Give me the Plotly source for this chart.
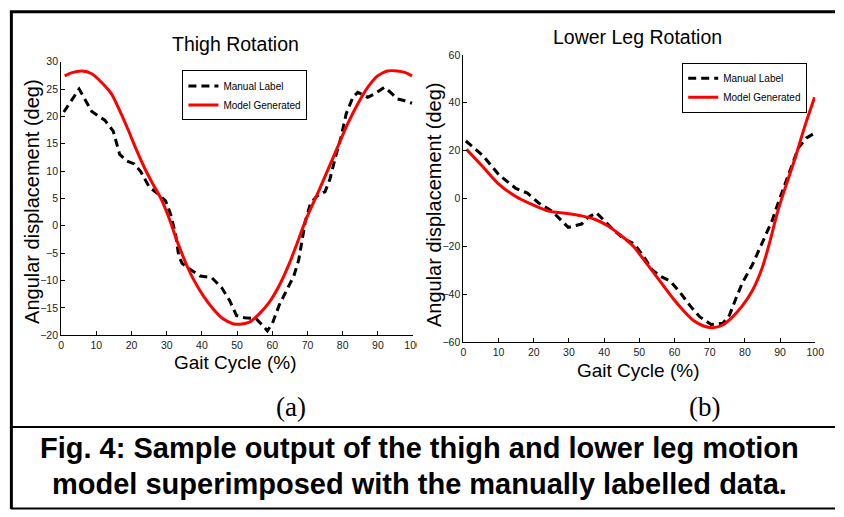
import plotly.graph_objects as go

W, H = 844, 517

# ---- data ----
thigh_manual_x = [0.75, 5.1, 8.7, 12.4, 14.8, 16.6, 18.5, 20.8, 22.7, 25, 27.4, 29.7, 31.1, 32.5, 33.4, 34.4,
                  36.7, 39.5, 42.8, 45.6, 47.9, 49.8, 52.1, 55.4, 57.2, 58.6, 60.0, 61.9, 64.2, 66.1, 67.5,
                  68.4, 69.4, 70.8, 72.6, 75, 76.4, 77.8, 79.6, 81, 82.9, 84.3, 87.1, 89, 91.8, 93.6, 95.5,
                  97.4, 99.7]
thigh_manual_y = [20.8, 25, 20.9, 19.3, 17.3, 13.1, 11.9, 11.3, 9.8, 7.1, 5.9, 4.5, 2.1, -1.5, -5.5, -6.9,
                  -8.0, -9.2, -9.5, -11.3, -13.7, -16.4, -16.8, -17.0, -18.2, -19.2, -17.9, -14.6, -11.6,
                  -9.2, -6.25, -2.7, 0.9, 4.0, 5.4, 6.25, 8.6, 12.2, 16.4, 20.5, 23.5, 24.4, 23.5, 24.1,
                  25.3, 24.4, 23.2, 22.9, 22.4]

thigh_model_x = [1, 3.1, 5.9, 8.7, 11.5, 14.3, 16.6, 19, 21.3, 23.6, 26, 28.3, 30.6, 33, 35.8, 37.6, 40.4,
                 43.2, 46, 48.8, 50.7, 53.5, 56.3, 59.1, 61.9, 64.7, 67, 69.4, 73.1, 75.9, 78.7, 81.5,
                 84.3, 87.1, 89.9, 92.7, 95.5, 97.8, 99.7]
thigh_model_y = [27.4, 28.0, 28.3, 27.8, 26.2, 24.1, 21.1, 17.6, 14, 10.7, 7.7, 5.05, 1.5, -2.9, -7.4, -9.8,
                 -12.8, -15.2, -17, -17.9, -18.0, -17.6, -16.1, -14, -11, -7.1, -3.3, 0.9, 6.25, 10.4,
                 14.6, 18.75, 22.3, 25.3, 27.4, 28.3, 28.3, 28.0, 27.4]

leg_manual_x = [0.7, 5.6, 10.2, 14.9, 18.2, 21.4, 25.2, 28, 29.8, 33.6, 35.4, 37.8, 40.1, 42.9, 45.7, 48.5,
                51.3, 53.6, 56, 58.8, 61.6, 64.4, 67.2, 70.4, 73.7, 75.6, 77.4, 79.3, 82.1, 84.9, 87.7,
                89.6, 92.4, 95.2, 97.5, 99.8]
leg_manual_y = [24, 17.8, 9.7, 4.2, 2.2, -1.9, -5.3, -9.4, -12.1, -10.7, -8, -6, -9.4, -13.5, -16.9, -18.9,
                -24.4, -29.8, -32.5, -34.6, -39.3, -44.8, -49.5, -52.7, -52.2, -48.8, -42, -35.2, -27.8,
                -18.9, -9.4, -1.3, 9.7, 21.2, 25.3, 27.3]

leg_model_x = [0.9, 5.6, 9.8, 14.9, 19.6, 24.2, 28.9, 33.6, 37.3, 41, 44.8, 48.5, 51.3, 54.1, 56.9, 59.7,
               62.5, 65.3, 68.1, 70.9, 73.7, 76.5, 79.3, 82.1, 84.9, 87.2, 89.1, 91.4, 94.2, 97, 99.8]
leg_model_y = [20.5, 13.1, 6.3, 0.8, -2.6, -5.3, -6.2, -7.3, -8.7, -11.4, -15.5, -20.3, -25.7, -31.1,
               -36.6, -42, -46.8, -50.9, -53.2, -54, -52.9, -49.5, -44.8, -38.6, -29.1, -17.5, -6.6, 4.2,
               16.5, 30.1, 42.3]

x_ticks = list(range(0, 101, 10))
thigh_y_ticks = list(range(-20, 31, 5))
leg_y_ticks = list(range(-60, 61, 20))

series_names = ["Manual Label", "Model Generated"]
titles = ["Thigh Rotation", "Lower Leg Rotation"]
panel_labels = ["(a)", "(b)"]
x_title = "Gait Cycle (%)"
y_title = "Angular displacement (deg)"
caption = ["Fig. 4: Sample output of the thigh and lower leg motion",
           "model superimposed with the manually labelled data."]


def px(x):
    return x / W


def py(y):
    return 1 - y / H


fig = go.Figure()

manual_style = dict(color="black", width=3, dash="8px,5px")
model_style = dict(color="#ff0000", width=3)

fig.add_trace(go.Scatter(x=thigh_manual_x, y=thigh_manual_y, mode="lines", name=series_names[0],
                         line=manual_style, xaxis="x", yaxis="y", legend="legend"))
fig.add_trace(go.Scatter(x=thigh_model_x, y=thigh_model_y, mode="lines", name=series_names[1],
                         line=dict(model_style, shape="spline", smoothing=0.6), xaxis="x", yaxis="y",
                         legend="legend"))
fig.add_trace(go.Scatter(x=leg_manual_x, y=leg_manual_y, mode="lines", name=series_names[0],
                         line=manual_style, xaxis="x2", yaxis="y2", legend="legend2"))
fig.add_trace(go.Scatter(x=leg_model_x, y=leg_model_y, mode="lines", name=series_names[1],
                         line=dict(model_style, shape="spline", smoothing=0.6), xaxis="x2", yaxis="y2",
                         legend="legend2"))

font_sans = "Liberation Sans, Arial, sans-serif"
tickfont = dict(family=font_sans, size=10.5, color="#222")
axis_common = dict(showline=True, linecolor="black", linewidth=1, ticks="inside", ticklen=4,
                   tickcolor="black", tickwidth=1, showgrid=False, zeroline=False, tickfont=tickfont,
                   mirror=False)

legend_common = dict(bgcolor="white", bordercolor="black", borderwidth=1,
                     font=dict(family=font_sans, size=10, color="black"),
                     xanchor="left", yanchor="top", tracegroupgap=0, itemwidth=30)

fig.update_layout(
    width=W, height=H,
    margin=dict(l=0, r=0, t=0, b=0),
    paper_bgcolor="white", plot_bgcolor="white",
    showlegend=True,
    xaxis=dict(axis_common, domain=[px(59), px(416)], range=[0, 100], tickvals=x_ticks, anchor="y"),
    yaxis=dict(axis_common, domain=[py(337), py(57)], range=[-20, 30], tickvals=thigh_y_ticks, anchor="x"),
    xaxis2=dict(axis_common, domain=[px(467), px(824)], range=[0, 100], tickvals=x_ticks, anchor="y2"),
    yaxis2=dict(axis_common, domain=[py(344), py(50)], range=[-60, 60], tickvals=leg_y_ticks, anchor="x2"),
    legend=dict(legend_common, x=px(182), y=py(66)),
    legend2=dict(legend_common, x=px(689), y=py(58)),
)

ann = []
ann.append(dict(text=titles[0], x=px(235.5), y=py(39), font=dict(family=font_sans, size=19.5, color="black")))
ann.append(dict(text=titles[1], x=px(644), y=py(32), font=dict(family=font_sans, size=19.5, color="black")))
ann.append(dict(text=x_title, x=px(235.5), y=py(365), font=dict(family=font_sans, size=19, color="black")))
ann.append(dict(text=x_title, x=px(644), y=py(373), font=dict(family=font_sans, size=19, color="black")))
ann.append(dict(text=y_title, x=px(30), y=py(200), textangle=-90,
                font=dict(family=font_sans, size=20, color="black")))
ann.append(dict(text=y_title, x=px(438), y=py(203), textangle=-90,
                font=dict(family=font_sans, size=20, color="black")))
ann.append(dict(text=panel_labels[0], x=px(292), y=py(411),
                font=dict(family="Liberation Serif, Times New Roman, serif", size=27, color="black")))
ann.append(dict(text=panel_labels[1], x=px(712), y=py(411),
                font=dict(family="Liberation Serif, Times New Roman, serif", size=27, color="black")))
cap_font = dict(family="Liberation Sans Narrow, Arial Narrow, Liberation Sans, sans-serif", size=29,
                color="black")
ann.append(dict(text="<b>" + caption[0] + "</b>", x=px(423), y=py(452), font=cap_font))
ann.append(dict(text="<b>" + caption[1] + "</b>", x=px(423), y=py(489), font=cap_font))

for a in ann:
    a.update(xref="paper", yref="paper", showarrow=False, xanchor="center", yanchor="middle")
fig.update_layout(annotations=ann)

shapes = [
    # clip of the left "100" label by the right panel
    dict(type="rect", xref="paper", yref="paper", x0=px(420), x1=px(428), y0=py(352), y1=py(338),
         fillcolor="white", line=dict(width=0), layer="above"),
    # outer frame
    dict(type="line", xref="paper", yref="paper", x0=px(7), x1=1, y0=py(6), y1=py(6),
         line=dict(color="black", width=3)),
    dict(type="line", xref="paper", yref="paper", x0=px(8.5), x1=px(8.5), y0=py(5), y1=py(515),
         line=dict(color="black", width=3)),
    dict(type="line", xref="paper", yref="paper", x0=px(8), x1=1, y0=py(431), y1=py(431),
         line=dict(color="black", width=2)),
    dict(type="line", xref="paper", yref="paper", x0=px(8), x1=1, y0=py(514.5), y1=py(514.5),
         line=dict(color="black", width=2)),
]
fig.update_layout(shapes=shapes)

post = ("document.documentElement.style.margin='0';document.documentElement.style.overflow='hidden';"
        "document.body.style.margin='0';document.body.style.overflow='hidden';")
fig.write_html("out.html", config={"displayModeBar": False}, post_script=post)
